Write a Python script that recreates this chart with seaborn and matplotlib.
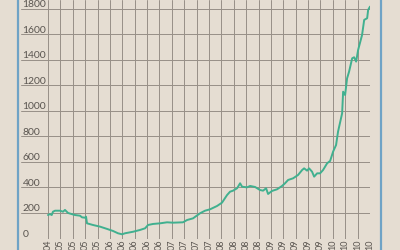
import matplotlib
matplotlib.use("Agg")
import matplotlib.pyplot as plt
from matplotlib.lines import Line2D
import seaborn as sns
import pandas as pd

# Data: position in tick units (tick spacing) and index value
period = [0.00, 0.16, 0.30, 0.40, 0.57, 0.97, 1.21, 1.37, 1.62, 2.18, 2.58, 2.75, 2.99, 3.07,
          3.15, 3.63, 4.20, 4.77, 5.25, 5.65, 5.98, 6.22, 6.87, 7.43, 7.84, 8.08, 8.48, 9.05,
          9.61, 10.10, 10.90, 11.23, 11.71, 12.28, 12.68, 13.09, 13.65, 14.05, 14.46, 14.70,
          14.94, 15.27, 15.51, 15.67, 16.07, 16.32, 16.72, 17.12, 17.37, 17.61, 17.77, 18.09,
          18.50, 18.90, 19.14, 19.39, 19.79, 20.19, 20.52, 20.68, 20.92, 21.08, 21.32, 21.49,
          21.73, 21.97, 22.21, 22.54, 22.78, 23.02, 23.26, 23.42, 23.75, 23.83, 23.99, 24.15,
          24.31, 24.56, 24.72, 24.88, 25.04, 25.36, 25.53, 25.77, 25.85, 26.00]
value = [184, 192, 184, 210, 218, 218, 210, 224, 200, 184, 179, 166, 163, 171,
         119, 106, 93, 75, 59, 41, 33, 41, 53, 67, 80, 106, 114, 119,
         127, 124, 127, 145, 158, 198, 218, 229, 255, 281, 341, 367,
         375, 394, 433, 406, 401, 412, 404, 380, 375, 394, 349, 373,
         386, 412, 433, 459, 472, 498, 537, 550, 532, 550, 524, 485,
         511, 511, 537, 590, 608, 681, 733, 838, 982, 1151, 1125, 1256,
         1308, 1413, 1421, 1387, 1478, 1596, 1714, 1727, 1792, 1818]

tick_labels = ["04", "05", "05", "05", "05", "06", "06", "06", "06", "06",
               "07", "07", "07", "07", "08", "08", "08", "08",
               "09", "09", "09", "09", "09", "10", "10", "10", "10"]
y_ticks = [0, 200, 400, 600, 800, 1000, 1200, 1400, 1600, 1800]

bg = "#e5ddd2"
sns.set_theme(style="white")
plt.rcParams["font.family"] = ["Lato", "DejaVu Sans"]

fig = plt.figure(figsize=(4, 2.5), dpi=100, facecolor=bg)
ax = fig.add_axes([0.0525, 0.046, 0.8725, 0.954])
ax.set_facecolor(bg)

df = pd.DataFrame({"period": period, "value": value})
sns.lineplot(data=df, x="period", y="value", ax=ax, color="#40b08f", linewidth=1.4,
             zorder=3)

ax.set_xlim(-2.18, 26)
ax.set_ylim(0, 1870)
ax.set_xticks(range(len(tick_labels)))
ax.set_xticklabels(tick_labels, rotation=90, fontsize=6.5, color="#5a5550")
ax.set_yticks(y_ticks)
ax.set_yticklabels([])
ax.tick_params(axis="both", length=0)
ax.tick_params(axis="x", pad=1)
ax.grid(True, axis="both", color="#978f87", linewidth=0.7)
ax.set_axisbelow(True)
for s in ax.spines.values():
    s.set_visible(False)
ax.set_xlabel("")
ax.set_ylabel("")

for v in y_ticks:
    ax.text(-2.05, v + 14, str(v), ha="left", va="baseline", fontsize=7.5, color="#5a5550")

fig.add_artist(Line2D([0.045, 0.045], [0, 1], transform=fig.transFigure,
                      color="#6fa3c6", linewidth=1.6))
fig.add_artist(Line2D([0.953, 0.953], [0, 1], transform=fig.transFigure,
                      color="#6fa3c6", linewidth=1.6))

fig.savefig("out.png", dpi=100, facecolor=bg)
